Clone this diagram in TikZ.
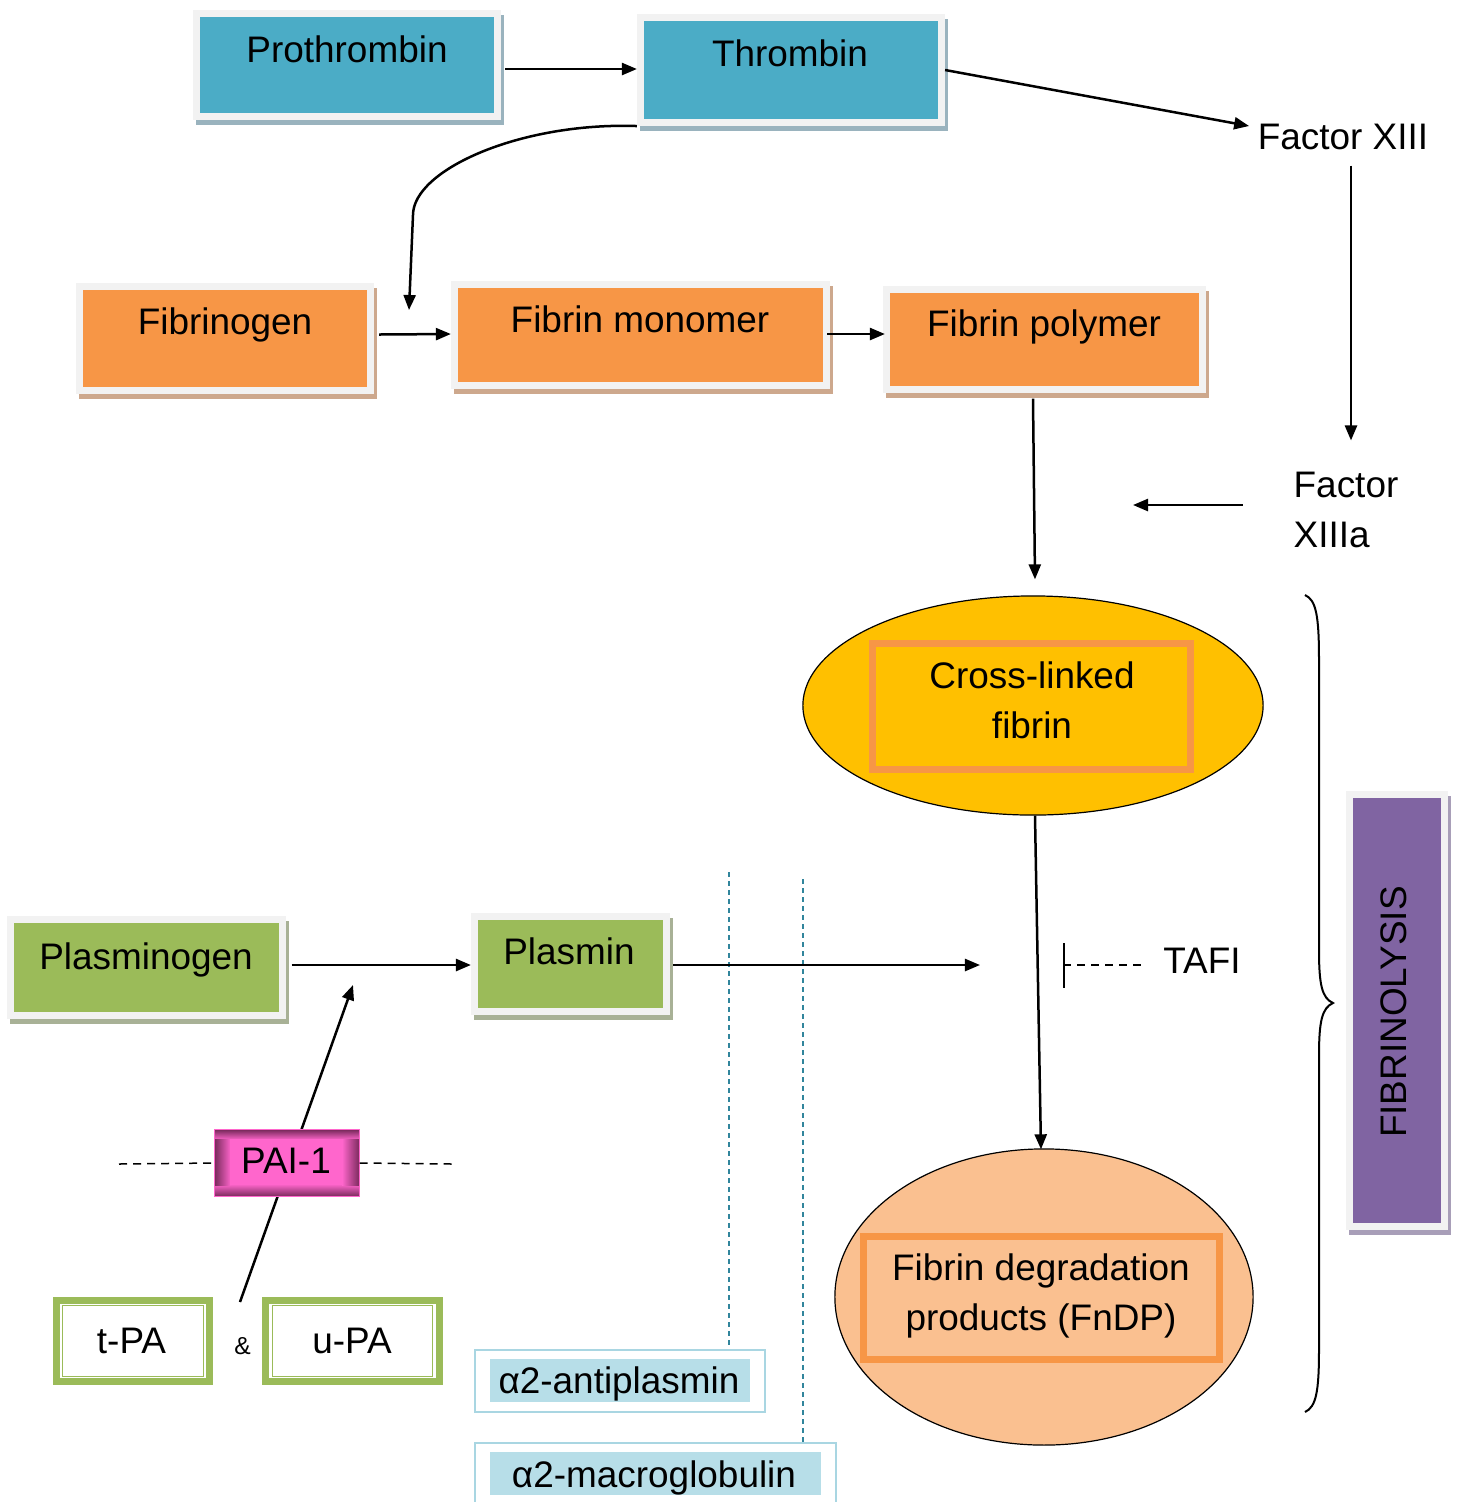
\documentclass[tikz,border=0pt]{standalone}
\usepackage{fontspec}
\setmainfont{Liberation Sans}
\usetikzlibrary{arrows.meta,shapes.geometric}
\definecolor{cblue}{HTML}{4BACC6}
\definecolor{sblue}{HTML}{9AB3BE}
\definecolor{corange}{HTML}{F79646}
\definecolor{sorange}{HTML}{CDA88D}
\definecolor{cgreen}{HTML}{9BBB59}
\definecolor{sgreen}{HTML}{A8B196}
\definecolor{cpurple}{HTML}{8064A2}
\definecolor{spurple}{HTML}{A89EB8}
\definecolor{frameg}{HTML}{F2F2F2}
\definecolor{cyellow}{HTML}{FFC000}
\definecolor{cpeach}{HTML}{FAC090}
\definecolor{clblue}{HTML}{B7DEE8}
\definecolor{clbline}{HTML}{A9D6E2}
\definecolor{cteal}{HTML}{31859C}
\definecolor{cpink}{HTML}{FF66CC}
\definecolor{cmdark}{HTML}{7D2C5F}
\begin{document}
\begin{tikzpicture}[x=0.01cm,y=-0.01cm,
  every node/.style={font=\fontsize{10.5}{14.2}\selectfont, inner sep=0pt},
  sbox/.style={draw=frameg, line width=0.07cm, fill=#1},
  shadowed/.style={preaction={fill=#1, draw=#1, line width=0.07cm, transform canvas={shift={(3,5)}}}},
  arr/.style={line width=0.025cm, -{Triangle[length=0.15cm,width=0.12cm]}},
  dashln/.style={line width=0.015cm, dash pattern=on 0.08cm off 0.06cm},
  tealln/.style={cteal, line width=0.015cm, dash pattern=on 0.05cm off 0.04cm},
  dblbox/.style={draw=cgreen, line width=0.07cm, fill=white},
  dblin/.style={draw=cgreen, line width=0.018cm},
  ell/.style={ellipse, draw=black, line width=0.012cm},
  orect/.style={draw=corange, line width=0.07cm},
  txt/.style={anchor=base},
]
\useasboundingbox (0,0) rectangle (1457,1502);

% ---------- coagulation boxes ----------
\node[sbox=cblue, shadowed=sblue, minimum width=3.01cm, minimum height=1.03cm] (pro) at (347,65) {};
\node[txt] (prot) at (347,62) {Prothrombin};
\node[sbox=cblue, shadowed=sblue, minimum width=3.01cm, minimum height=1.05cm] (thr) at (791,70) {};
\node[txt] (thrt) at (790,66) {Thrombin};

\node[sbox=corange, shadowed=sorange, minimum width=2.91cm, minimum height=1.04cm] (fg) at (225,338.5) {};
\node[txt] (fgt) at (225,334) {Fibrinogen};
\node[sbox=corange, shadowed=sorange, minimum width=3.72cm, minimum height=1.01cm] (fm) at (640.5,335) {};
\node[txt] (fmt) at (640,332) {Fibrin monomer};
\node[sbox=corange, shadowed=sorange, minimum width=3.16cm, minimum height=1.00cm] (fpol) at (1044.5,339.5) {};
\node[txt] (fpolt) at (1044,336) {Fibrin polymer};

\node (f13) at (1343,137) {Factor XIII};
\node[align=left] (f13a) at (1346,510) {Factor\\XIIIa};

% ---------- ellipses ----------
\node[ell, fill=cyellow, minimum width=4.60cm, minimum height=2.19cm] (cl) at (1033,705.5) {};
\node[orect, minimum width=3.18cm, minimum height=1.26cm] (clr) at (1031.5,706.5) {};
\node[align=center] (clt) at (1032,700.5) {Cross-linked\\fibrin};

\node[ell, fill=cpeach, minimum width=4.18cm, minimum height=2.96cm] (fdp) at (1044,1297) {};
\node[orect, minimum width=3.56cm, minimum height=1.23cm] (fdpr) at (1041.5,1298) {};
\node[align=center] (fdpt) at (1041,1296) {Fibrin degradation\\products (FnDP)};

% ---------- fibrinolysis ----------
\node[sbox=cpurple, shadowed=spurple, minimum width=0.95cm, minimum height=4.32cm] (fib) at (1397,1010.5) {};
\node[rotate=90] (fibt) at (1394,1012) {FIBRINOLYSIS};

\node[sbox=cgreen, shadowed=sgreen, minimum width=2.72cm, minimum height=0.96cm] (plg) at (146.5,967.5) {};
\node[txt] (plgt) at (146,969) {Plasminogen};
\node[sbox=cgreen, shadowed=sgreen, minimum width=1.92cm, minimum height=0.95cm] (pl) at (570.5,964) {};
\node[txt] (plt) at (569,964) {Plasmin};

\node[txt] (tafi) at (1202,973) {TAFI};

% ---------- activators ----------
\coordinate (ampTop) at (240,1302);
\coordinate (plgAct) at (353,985);
\draw[arr] (ampTop) -- (plgAct);

\coordinate (paiL) at (119,1164);
\coordinate (paiR) at (452,1164);
% bevelled frame of PAI-1
\shade[top color=cmdark, bottom color=cpink] (215,1130) rectangle (359,1140);
\shade[top color=cpink, bottom color=cmdark] (215,1184) rectangle (359,1196);
\shade[left color=cmdark, right color=cpink] (215,1139) rectangle (231,1185);
\shade[left color=cpink, right color=cmdark] (342,1139) rectangle (359,1185);
\node[minimum width=1.44cm, minimum height=0.66cm, draw=cpink, line width=0.01cm] (pai) at (287,1163) {};
\node[fill=cpink, minimum width=1.13cm, minimum height=0.46cm] (paiin) at (286.5,1162) {};
\node[txt] (pait) at (286,1173) {PAI-1};
\draw[dashln] (paiL) -- (pai.west);
\draw[dashln] (pai.east) -- (paiR);

\node[dblbox, minimum width=1.53cm, minimum height=0.81cm] (tpa) at (133,1341) {};
\node[dblin, minimum width=1.41cm, minimum height=0.71cm] (tpain) at (133,1341) {};
\node[txt] (tpat) at (131.5,1353) {t-PA};
\node[dblbox, minimum width=1.74cm, minimum height=0.81cm] (upa) at (352.5,1341) {};
\node[dblin, minimum width=1.60cm, minimum height=0.71cm] (upain) at (352.5,1341) {};
\node[txt] (upat) at (352,1353) {u-PA};
\node[txt, font=\fontsize{7}{9}\selectfont] (amp) at (242.5,1354) {\&};

% ---------- inhibitors ----------
\node[draw=clbline, line width=0.015cm, minimum width=2.90cm, minimum height=0.62cm] (a2ap) at (620,1381) {};
\node[fill=clblue, minimum width=2.60cm, minimum height=0.43cm] (a2apin) at (620,1380.5) {};
\node[txt] (a2apt) at (619,1393) {α2-antiplasmin};
\node[draw=clbline, line width=0.015cm, minimum width=3.61cm, minimum height=0.77cm] (a2mg) at (655.5,1481.5) {};
\node[fill=clblue, minimum width=3.31cm, minimum height=0.43cm] (a2mgin) at (655.5,1473.5) {};
\node[txt] (a2mgt) at (654,1487) {α2-macroglobulin};

\coordinate (t1) at (729,872);
\coordinate (t2) at (803,879);
\draw[tealln] (t1) -- (t1 |- a2ap.north);
\draw[tealln] (t2) -- (t2 |- a2mg.north);

% ---------- connectors ----------
\draw[arr] ([shift={(4,4)}]pro.east) -- (thr.west |- {0,69});
\draw[arr] (thr.east) -- ([shift={(-8,-11)}]f13.west);
\coordinate (fgIn) at (409,310);
\draw[arr] (thr.south west) .. controls (520,122) and (413,170) .. (413,215) -- (fgIn);
\draw[arr] ([shift={(5,-4)}]fg.east) -- ([shift={(0,-1)}]fm.west);
\draw[arr] ([shift={(-3,-1)}]fm.east) -- ([shift={(2,-5.5)}]fpol.west);
\draw[arr] ([shift={(8,15)}]f13.south) -- ([shift={(5,-31)}]f13a.north);
\coordinate (xiiiaEnd) at (1133,505);
\draw[arr] ([shift={(-50,-5)}]f13a.west) -- (xiiiaEnd);
\draw[arr] ([shift={(-11.5,5.5)}]fpol.south) -- ([shift={(2,-16)}]cl.north);
\draw[arr] ([shift={(2,0)}]cl.south) -- ([shift={(-3,1)}]fdp.north);
\draw[arr] ([shift={(5.5,-2.5)}]plg.east) -- ([shift={(0,1)}]pl.west);
\coordinate (plEnd) at (980,965);
\draw[arr] ([shift={(3,1)}]pl.east) -- (plEnd);
\coordinate (tafiBar) at (1063,965);
\draw[dashln, -{Bar[width=0.45cm,line width=0.02cm]}] (tafi.west |- tafiBar) ++(-22,0) -- (tafiBar);

% ---------- brace ----------
\draw[line width=0.02cm] (1305,595) .. controls (1316,600) and (1319,615) .. (1319,660)
  -- (1319,950) .. controls (1319,985) and (1322,998) .. (1333,1003)
  .. controls (1322,1008) and (1319,1021) .. (1319,1056)
  -- (1319,1350) .. controls (1319,1392) and (1316,1407) .. (1305,1412);
\end{tikzpicture}
\end{document}
